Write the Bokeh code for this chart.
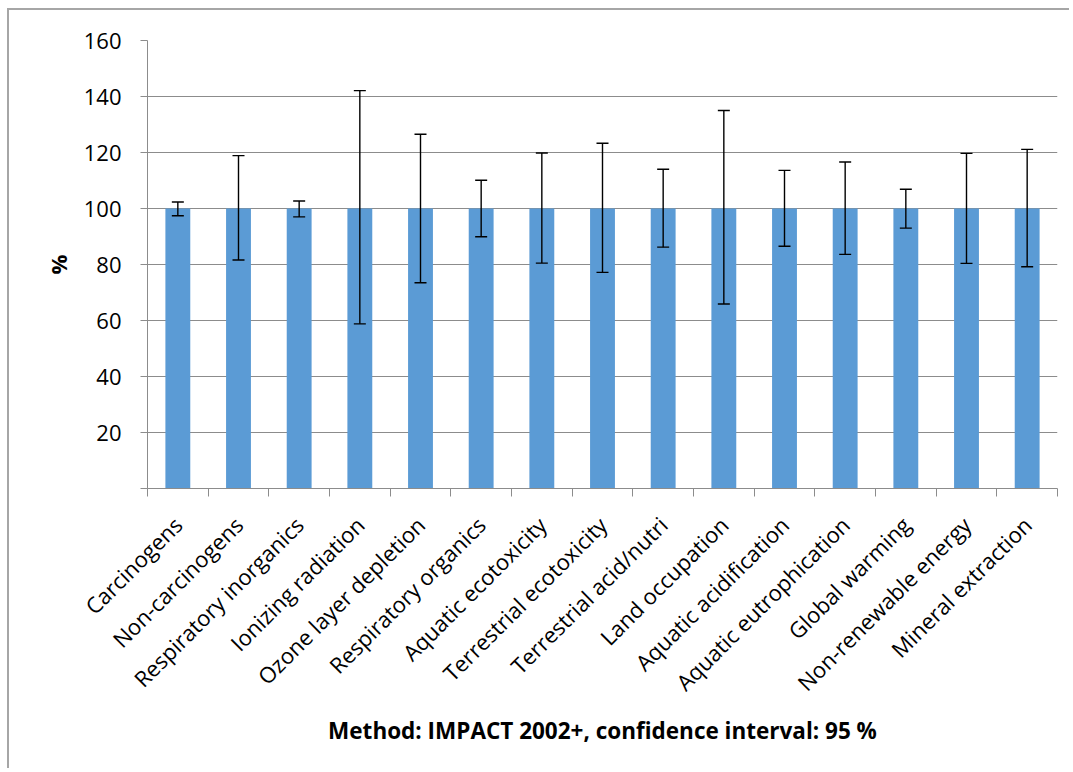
from bokeh.plotting import figure
from bokeh.models import Range1d, FixedTicker, Whisker, TeeHead, ColumnDataSource
from bokeh.embed import file_html
from bokeh.resources import INLINE

categories = ["Carcinogens", "Non-carcinogens", "Respiratory inorganics", "Ionizing radiation",
              "Ozone layer depletion", "Respiratory organics", "Aquatic ecotoxicity",
              "Terrestrial ecotoxicity", "Terrestrial acid/nutri", "Land occupation",
              "Aquatic acidification", "Aquatic eutrophication", "Global warming",
              "Non-renewable energy", "Mineral extraction"]
values = [100, 100, 100, 100, 100, 100, 100, 100, 100, 100, 100, 100, 100, 100, 100]
upper = [102.3, 118.9, 102.7, 142.1, 126.5, 110.1, 119.8, 123.3, 114.0, 135.0, 113.6, 116.6, 106.9, 119.7, 121.1]
lower = [97.4, 81.6, 97.0, 58.8, 73.5, 89.9, 80.5, 77.2, 86.2, 65.9, 86.5, 83.6, 93.0, 80.4, 79.2]
y_ticks = [0, 20, 40, 60, 80, 100, 120, 140, 160]

n = len(categories)
xs = [i + 0.5 for i in range(n)]
src = ColumnDataSource(dict(x=xs, v=values, up=upper, lo=lower))

FONT = "Open Sans"
GRAY = "#8c8c8c"

p = figure(width=1062, height=760, output_backend="svg", toolbar_location=None,
           x_range=Range1d(0, n), y_range=Range1d(0, 160),
           min_border_left=138, min_border_right=14, min_border_top=30, min_border_bottom=282)
p.styles = {"border-top": "2px solid #a6a6a6", "border-left": "2px solid #a6a6a6",
            "margin-left": "7px", "margin-top": "8px"}
p.outline_line_color = None

p.vbar(x="x", top="v", width=0.41, bottom=0, source=src, fill_color="#5B9BD5", line_color=None)

wh = Whisker(base="x", upper="up", lower="lo", source=src, line_color="black", line_width=1.4,
             upper_head=TeeHead(size=12, line_color="black", line_width=1.4),
             lower_head=TeeHead(size=12, line_color="black", line_width=1.4),
             level="overlay")
p.add_layout(wh)

# y axis
p.yaxis.ticker = FixedTicker(ticks=y_ticks)
p.yaxis.major_label_overrides = {0: ""}
p.yaxis.axis_line_color = GRAY
p.yaxis.major_tick_line_color = GRAY
p.yaxis.major_tick_out = 7
p.yaxis.major_tick_in = 0
p.yaxis.minor_tick_line_color = None
p.yaxis.major_label_standoff = 19
p.yaxis.major_label_text_font = FONT
p.yaxis.major_label_text_font_size = "22px"
p.yaxis.major_label_text_color = "black"
p.yaxis.axis_label = "%"
p.yaxis.axis_label_text_font = FONT
p.yaxis.axis_label_text_font_style = "bold"
p.yaxis.axis_label_text_font_size = "22px"
p.yaxis.axis_label_text_color = "black"
p.yaxis.axis_label_standoff = 8

# x axis
p.xaxis.ticker = FixedTicker(ticks=xs, minor_ticks=list(range(n + 1)))
p.xaxis.major_label_overrides = {x: c for x, c in zip(xs, categories)}
p.xaxis.major_label_orientation = 0.785398
p.xaxis.axis_line_color = GRAY
p.xaxis.major_tick_line_color = None
p.xaxis.major_tick_out = 0
p.xaxis.major_tick_in = 0
p.xaxis.minor_tick_line_color = GRAY
p.xaxis.minor_tick_out = 8
p.xaxis.minor_tick_in = 0
p.xaxis.major_label_standoff = 24
p.xaxis.major_label_text_font = FONT
p.xaxis.major_label_text_font_size = "22px"
p.xaxis.major_label_text_color = "black"
p.xaxis.axis_label = "Method: IMPACT 2002+, confidence interval: 95 %"
p.xaxis.axis_label_text_font = FONT
p.xaxis.axis_label_text_font_style = "bold"
p.xaxis.axis_label_text_font_size = "22.5px"
p.xaxis.axis_label_text_color = "black"
p.xaxis.axis_label_standoff = 5

p.xgrid.grid_line_color = None
p.ygrid.grid_line_color = GRAY
p.ygrid.grid_line_width = 1

open("out.html", "w").write(file_html(p, INLINE))
